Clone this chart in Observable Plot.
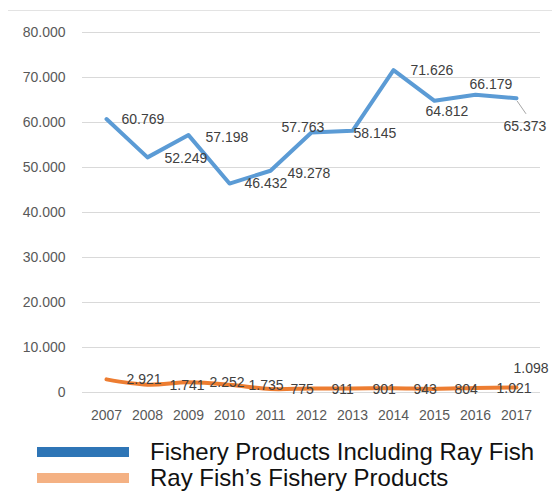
<!DOCTYPE html>
<html>
<head>
<meta charset="utf-8">
<script src="https://cdn.jsdelivr.net/npm/d3@7"></script>
<script src="https://cdn.jsdelivr.net/npm/@observablehq/plot@0.6"></script>
<style>
  body { margin: 0; background: #fff; font-family: "Liberation Sans", Arial, sans-serif; }
  #wrap { position: relative; width: 552px; height: 492px; overflow: hidden; }
  #topline { position: absolute; left: 8px; right: 0; top: 10px; border-top: 1px solid #e3e3e3; }
  #legend { padding-top: 14px; }
  .row { height: 26px; display: flex; align-items: center; font-size: 24px; color: #111; white-space: nowrap; }
  .sw { width: 92px; height: 10px; margin-left: 37px; margin-right: 21px; flex: none; }
</style>
</head>
<body>
<div id="wrap">
  <div id="topline"></div>
  <div id="chart"></div>
  <div id="legend"></div>
</div>
<script>
const years = [2007, 2008, 2009, 2010, 2011, 2012, 2013, 2014, 2015, 2016, 2017];
const totalProducts = [60769, 52249, 57198, 46432, 49278, 57763, 58145, 71626, 64812, 66179, 65373];
const rayProducts = [2921, 1741, 2252, 1735, 775, 911, 901, 943, 804, 1021, 1098];
const yTicks = [0, 10000, 20000, 30000, 40000, 50000, 60000, 70000, 80000];
const seriesNames = ["Fishery Products Including Ray Fish", "Ray Fish\u2019s Fishery Products"];

const fmt = v => d3.format(",")(v).replace(/,/g, ".");

// label nudges (pixel offsets, as placed in the original chart)
const blueDx = [15, 17, 17, 15, 17, -30, 1, 17, -9, -6, -13];
const blueDy = [0, 1, 2, 0, 3, -5, 3, 0, 11, -10, 28];
const orangeDx = [20, 22, 21, 19, 20, 20, 20, 20, 20, 21, -3];
const orangeDy = [0, 1, 0, 1, 1, 1, 1, 1, 1, 1, -19];

const blue = years.map((yr, i) => ({year: yr, v: totalProducts[i]}));
const orange = years.map((yr, i) => ({year: yr, v: rayProducts[i]}));

const labelMarks = [];
blue.forEach((d, i) => labelMarks.push(Plot.text([d], {
  x: "year", y: "v", text: d => fmt(d.v), textAnchor: "start",
  dx: blueDx[i], dy: blueDy[i], fill: "#404040", fontSize: 14
})));
orange.forEach((d, i) => labelMarks.push(Plot.text([d], {
  x: "year", y: "v", text: d => fmt(d.v), textAnchor: "start",
  dx: orangeDx[i], dy: orangeDy[i], fill: "#404040", fontSize: 14
})));

// leader line from the last blue point to its label
const last = blue[blue.length - 1];
const leader = (index, scales) => {
  const x0 = scales.x(last.year), y0 = scales.y(last.v);
  const l = document.createElementNS("http://www.w3.org/2000/svg", "line");
  l.setAttribute("x1", x0 + 1); l.setAttribute("y1", y0 + 3);
  l.setAttribute("x2", x0 + 10); l.setAttribute("y2", y0 + 16);
  l.setAttribute("stroke", "#a6a6a6"); l.setAttribute("stroke-width", 1);
  return l;
};

const chart = Plot.plot({
  width: 552,
  height: 425,
  marginTop: 32,
  marginBottom: 33,
  marginLeft: 82,
  marginRight: 12,
  style: { fontFamily: "Liberation Sans, Arial, sans-serif", fontSize: "14px", color: "#595959", background: "#fff", overflow: "visible" },
  x: { type: "point", domain: years, padding: 0.5, label: null, tickSize: 0, tickPadding: 18, tickFormat: d => String(d) },
  y: { domain: [0, 80000], ticks: yTicks, tickFormat: d => fmt(d), tickSize: 0, tickPadding: 17, label: null },
  marks: [
    Plot.ruleY(yTicks, { stroke: "#d9d9d9", strokeWidth: 1 }),
    leader,
    Plot.line(blue, { x: "year", y: "v", stroke: "#5B9BD5", strokeWidth: 4, strokeLinejoin: "round", strokeLinecap: "round" }),
    Plot.line(orange, { x: "year", y: "v", stroke: "#ED7D31", strokeWidth: 4, curve: "catmull-rom", strokeLinecap: "round" }),
    ...labelMarks
  ]
});
document.getElementById("chart").appendChild(chart);

const swatchColors = ["#2E75B6", "#F4B183"];
const legend = document.getElementById("legend");
seriesNames.forEach((name, i) => {
  const row = document.createElement("div");
  row.className = "row";
  const sw = document.createElement("div");
  sw.className = "sw";
  sw.style.background = swatchColors[i];
  const t = document.createElement("span");
  t.textContent = name;
  row.appendChild(sw);
  row.appendChild(t);
  legend.appendChild(row);
});
</script>
</body>
</html>
